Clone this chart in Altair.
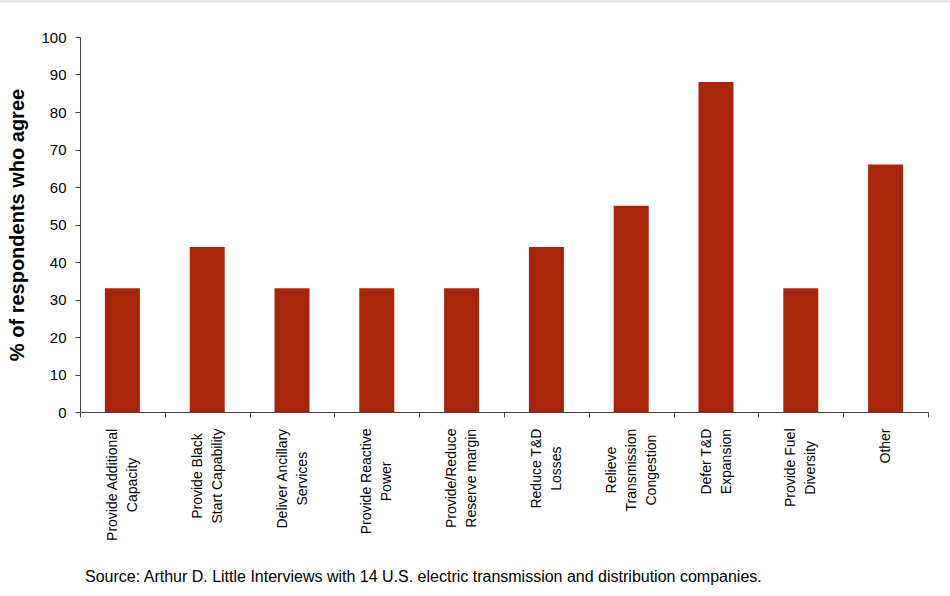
import altair as alt
import pandas as pd

categories = [
    "Provide Additional|Capacity",
    "Provide Black|Start Capability",
    "Deliver Ancillary|Services",
    "Provide Reactive|Power",
    "Provide/Reduce|Reserve margin",
    "Reduce T&D|Losses",
    "Relieve|Transmission|Congestion",
    "Defer T&D|Expansion",
    "Provide Fuel|Diversity",
    "Other",
]
values = [33, 44, 33, 33, 33, 44, 55, 88, 33, 66]
y_ticks = [0, 10, 20, 30, 40, 50, 60, 70, 80, 90, 100]
source_note = ["Source: Arthur D. Little Interviews with 14 U.S. electric transmission and distribution companies."]

df = pd.DataFrame({"category": categories, "value": values})
note_df = pd.DataFrame({"note": source_note})

FONT = "Liberation Sans"
XLAB_SIZE = 14
XLAB_LH = 20

# Arial/Liberation Sans advance widths (1/1000 em) used to centre the
# lines of each rotated label while keeping the block's top at the axis.
_W = {" ": 278, "&": 667, "/": 278, "A": 667, "B": 667, "C": 722, "D": 722,
      "E": 667, "F": 611, "L": 556, "O": 778, "P": 667, "R": 722, "S": 667,
      "T": 611, "a": 556, "b": 556, "c": 500, "d": 556, "e": 556, "f": 278,
      "g": 556, "h": 556, "i": 222, "k": 500, "l": 222, "m": 833, "n": 556,
      "o": 556, "p": 556, "r": 333, "s": 500, "t": 278, "u": 556, "v": 500,
      "w": 722, "x": 500, "y": 500}


def text_w(s):
    return sum(_W.get(c, 556) for c in s) * XLAB_SIZE / 1000.0


pad_conds = []
off_conds = []
for c in categories:
    lines = c.split("|")
    w = max(text_w(l) for l in lines)
    test = "datum.value == '%s'" % c
    pad_conds.append({"test": test, "value": round(11 + w / 2, 1)})
    off_conds.append({"test": test, "value": -(len(lines) - 1) * XLAB_LH / 2})

bars = alt.Chart(df).mark_bar(color="#A8250B", size=35).encode(
    x=alt.X(
        "category:N",
        sort=categories,
        scale=alt.Scale(paddingInner=0, paddingOuter=0),
        axis=alt.Axis(
            title=None,
            labelAngle=270,
            labelAlign="center",
            labelBaseline="middle",
            labelExpr="split(datum.label, '|')",
            labelFont=FONT,
            labelFontSize=XLAB_SIZE,
            labelLineHeight=XLAB_LH,
            labelColor="#000000",
            labelPadding={"condition": pad_conds, "value": 40},
            labelOffset={"condition": off_conds, "value": 0},
            tickBand="extent",
            tickSize=5,
            tickColor="#444444",
            domainColor="#444444",
            labelLimit=300,
        ),
    ),
    y=alt.Y(
        "value:Q",
        scale=alt.Scale(domain=[0, 100], nice=False),
        axis=alt.Axis(
            title="% of respondents who agree",
            values=y_ticks,
            grid=False,
            labelFont=FONT,
            labelFontSize=15,
            labelColor="#000000",
            labelPadding=9,
            tickSize=5,
            tickColor="#444444",
            domainColor="#444444",
            titleFont=FONT,
            titleFontSize=20,
            titleFontWeight="bold",
            titleColor="#000000",
            titlePadding=13,
        ),
    ),
)

note = alt.Chart(note_df).mark_text(
    align="left", baseline="middle", font=FONT, fontSize=16, color="#000000"
).encode(text="note:N", x=alt.value(5), y=alt.value(540))

top_band = alt.Chart(note_df).mark_rule(color="#e3e3e3", strokeWidth=3).encode(
    x=alt.value(-80), x2=alt.value(870), y=alt.value(-36)
)

chart = alt.layer(bars, note, top_band).properties(
    width=848,
    height=375,
    autosize=alt.AutoSizeParams(type="none"),
    padding={"left": 80, "top": 37, "right": 22, "bottom": 184},
    background="#ffffff",
).configure_view(stroke=None)

chart.save("out.html", embed_options={"renderer": "svg", "actions": False})
